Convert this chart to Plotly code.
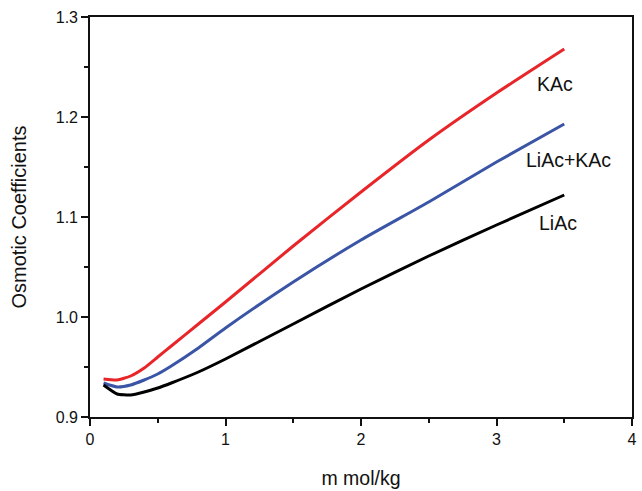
import plotly.graph_objects as go

m = [0.1, 0.2, 0.3, 0.4, 0.5, 0.6, 0.8, 1.0, 1.5, 2.0, 2.5, 3.0, 3.5]
kac = [0.938, 0.937, 0.941, 0.949, 0.960, 0.971, 0.993, 1.015, 1.071, 1.125, 1.177, 1.224, 1.268]
mix = [0.934, 0.930, 0.932, 0.937, 0.943, 0.951, 0.969, 0.989, 1.035, 1.077, 1.115, 1.155, 1.193]
liac = [0.932, 0.923, 0.922, 0.925, 0.929, 0.934, 0.945, 0.958, 0.993, 1.028, 1.061, 1.092, 1.122]

labels = ["KAc", "LiAc+KAc", "LiAc"]
label_x = [3.43, 3.53, 3.455]
label_y = [1.233, 1.157, 1.094]

FONT = "Liberation Sans, Arial, sans-serif"

fig = go.Figure()
for ys, col, name in [(kac, "#e8262a", "KAc"), (mix, "#3b55a6", "LiAc+KAc"), (liac, "#000000", "LiAc")]:
    fig.add_trace(go.Scatter(x=m, y=ys, mode="lines", name=name,
                             line=dict(color=col, width=3, shape="spline", smoothing=0.5)))

for t, x, y in zip(labels, label_x, label_y):
    fig.add_annotation(x=x, y=y, text=t, showarrow=False,
                       font=dict(family=FONT, size=19.5, color="#111"))

axis_common = dict(showgrid=False, zeroline=False, showline=True, linecolor="#111",
                   linewidth=1.6, mirror=True, ticks="outside", ticklen=7, tickwidth=1.6,
                   tickcolor="#111", tickfont=dict(family=FONT, size=16, color="#111"))

fig.update_xaxes(range=[0, 4], tickvals=[0, 1, 2, 3, 4], ticktext=["0", "1", "2", "3", "4"],
                 minor=dict(dtick=0.5, ticklen=4, tickwidth=1.6, tickcolor="#111", ticks="outside"),
                 title=dict(text="m mol/kg", font=dict(family=FONT, size=19.5, color="#111"), standoff=24),
                 **axis_common)
fig.update_yaxes(range=[0.9, 1.3], tickvals=[0.9, 1.0, 1.1, 1.2, 1.3],
                 ticktext=["0.9", "1.0", "1.1", "1.2", "1.3"],
                 minor=dict(dtick=0.05, ticklen=4, tickwidth=1.6, tickcolor="#111", ticks="outside"),
                 title=dict(text="Osmotic Coefficients", font=dict(family=FONT, size=20, color="#111"), standoff=24),
                 **axis_common)

fig.update_layout(width=642, height=491, margin=dict(l=90, r=5, t=17, b=70),
                  plot_bgcolor="white", paper_bgcolor="white", showlegend=False)

fig.write_html("out.html")
